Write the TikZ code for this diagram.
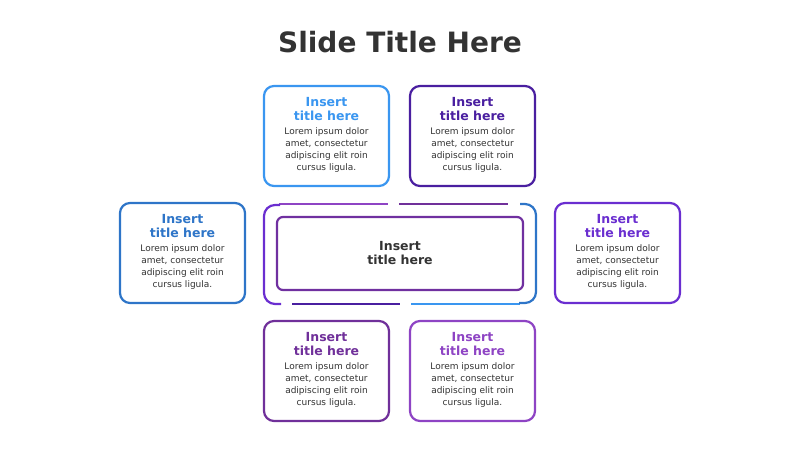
\documentclass[tikz,border=0pt]{standalone}
\usepackage{fontspec}
\setmainfont{DejaVu Sans}
\begin{document}
\begin{tikzpicture}[x=1pt,y=-1pt,
  card/.style={draw=#1,line width=2.2pt,rounded corners=10pt,fill=white},
  ttl/.style={text=#1,font=\fontsize{12.5}{14}\selectfont\bfseries,align=center},
  body/.style={text=black!80,font=\fontsize{9}{12}\selectfont,align=center},
  seg/.style={draw=#1,line width=2.2pt}]
\useasboundingbox (0,0) rectangle (800,450);
\definecolor{cA}{HTML}{3A96F0}\definecolor{cB}{HTML}{4A1FA0}
\definecolor{cC}{HTML}{2E75C8}\definecolor{cD}{HTML}{6A2ED0}
\definecolor{cE}{HTML}{70309A}\definecolor{cF}{HTML}{8E44C4}
\definecolor{cG}{HTML}{7030A0}
\node[font=\fontsize{28}{30}\selectfont\bfseries,text=black!80] (title) at (400,42) {Slide Title Here};
\foreach \n/\x/\y/\c in {tl/264/86/cA,tr/410/86/cB,l/120/203/cC,r/555/203/cD,bl/264/321/cE,br/410/321/cF}{
  \draw[card=\c] (\x,\y) rectangle ++(125,100);
  \node[ttl=\c] (\n t) at (\x+62.5,\y+23) {Insert\\title here};
  \node[body] (\n b) at (\x+62.5,\y+64) {Lorem ipsum dolor\\amet, consectetur\\adipiscing elit roin\\cursus ligula.};
}
\node[draw=cG,line width=2.2pt,rounded corners=6pt,minimum width=246pt,minimum height=73pt] (c) at (400,253.5) {};
\node[text=black!80,font=\fontsize{12.5}{14}\selectfont\bfseries,align=center] (ct) at (400,253.5) {Insert\\title here};
\draw[seg=cF] (279,204) -- (388,204);
\draw[seg=cE] (399,204) -- (508,204);
\draw[seg=cB] (292,304) -- (400,304);
\draw[seg=cA] (411,304) -- (520,304);
\draw[seg=cD,rounded corners=11pt] (280,205) -- (264,205) -- (264,304) -- (281,304);
\draw[seg=cC,rounded corners=11pt] (520,204) -- (536,204) -- (536,303) -- (519,303);
\end{tikzpicture}
\end{document}
